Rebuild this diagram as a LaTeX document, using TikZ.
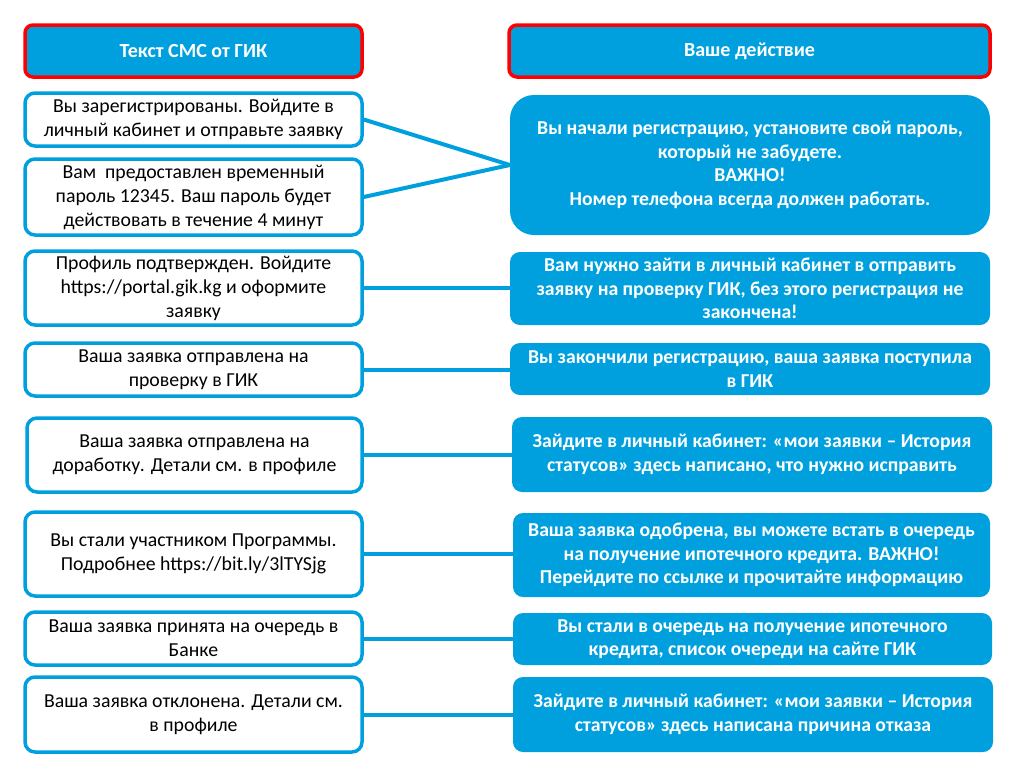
\documentclass[tikz,border=0pt]{standalone}
\usepackage{fontspec}
\setmainfont{Carlito}
\definecolor{gikblue}{RGB}{0,160,223}
\definecolor{gikred}{RGB}{255,0,0}
\tikzset{
  hdr/.style={draw=gikred, line width=3.5pt, fill=gikblue, rounded corners=8pt, text=white,
    font=\fontsize{20}{24}\selectfont\bfseries, align=center, inner sep=0pt},
  smsbox/.style={draw=gikblue, line width=3.5pt, fill=white, rounded corners=10pt, text=black,
    font=\fontsize{19.8}{24}\selectfont, align=center, inner sep=0pt},
  actbox/.style={fill=gikblue, rounded corners=10pt, text=white,
    font=\fontsize{19.7}{23.5}\selectfont\bfseries, align=center, inner sep=0pt},
  conn/.style={draw=gikblue, line width=4pt},
}
\begin{document}
\begin{tikzpicture}[x=1pt,y=-1pt]
\useasboundingbox (0,0) rectangle (1029,769);
% headers
\node[hdr, minimum width=337pt, minimum height=52pt] (h1) at (193.5,51) {Текст СМС от ГИК};
\node[hdr, minimum width=481pt, minimum height=52pt] (h2) at (749.5,51) {Ваше действие};
% SMS boxes
\node[smsbox, minimum width=337pt, minimum height=53pt] (l1) at (193.5,119.5) {Вы зарегистрированы. Войдите в\\личный кабинет и отправьте заявку};
\node[smsbox, minimum width=337pt, minimum height=76pt] (l2) at (193.5,197) {Вам\ \ предоставлен временный\\пароль 12345. Ваш пароль будет\\действовать в течение 4 минут};
\node[smsbox, minimum width=337pt, minimum height=74pt] (l3) at (193.5,288) {Профиль подтвержден. Войдите\\https://portal.gik.kg и оформите\\заявку};
\node[smsbox, minimum width=337pt, minimum height=53pt] (l4) at (193.5,369.5) {Ваша заявка отправлена на\\проверку в ГИК};
\node[smsbox, minimum width=335pt, minimum height=74pt] (l5) at (194.5,455) {Ваша заявка отправлена на\\доработку. Детали см. в профиле};
\node[smsbox, minimum width=337pt, minimum height=84pt] (l6) at (193.5,554) {Вы стали участником Программы.\\Подробнее https://bit.ly/3lTYSjg};
\node[smsbox, minimum width=337pt, minimum height=53pt] (l7) at (193.5,638.5) {Ваша заявка принята на очередь в\\Банке};
\node[smsbox, minimum width=337pt, minimum height=75pt] (l8) at (193.5,714.5) {Ваша заявка отклонена. Детали см.\\в профиле};
% action boxes
\node[actbox, rounded corners=24pt, minimum width=480pt, minimum height=140pt] (r1) at (750,165) {Вы начали регистрацию, установите свой пароль,\\который не забудете.\\ВАЖНО!\\Номер телефона всегда должен работать.};
\node[actbox, minimum width=480pt, minimum height=73pt] (r2) at (750,288.5) {Вам нужно зайти в личный кабинет в отправить\\заявку на проверку ГИК, без этого регистрация не\\закончена!};
\node[actbox, minimum width=480pt, minimum height=52pt] (r3) at (750,369) {Вы закончили регистрацию, ваша заявка поступила\\в ГИК};
\node[actbox, minimum width=480pt, minimum height=75pt] (r4) at (752,454.5) {Зайдите в личный кабинет: «мои заявки – История\\статусов» здесь написано, что нужно исправить};
\node[actbox, minimum width=477pt, minimum height=84pt] (r5) at (751.5,555) {Ваша заявка одобрена, вы можете встать в очередь\\на получение ипотечного кредита. ВАЖНО!\\Перейдите по ссылке и прочитайте информацию};
\node[actbox, minimum width=479pt, minimum height=52pt] (r6) at (752.5,639) {Вы стали в очередь на получение ипотечного\\кредита, список очереди на сайте ГИК};
\node[actbox, minimum width=480pt, minimum height=75pt] (r7) at (753,714.5) {Зайдите в личный кабинет: «мои заявки – История\\статусов» здесь написана причина отказа};
% connectors
\draw[conn] (l1.east) -- (r1.west);
\draw[conn] (l2.east) -- (r1.west);
\draw[conn] (l3.east) -- (l3.east -| r2.west);
\draw[conn] (l4.east) -- (l4.east -| r3.west);
\draw[conn] (l5.east) -- (l5.east -| r4.west);
\draw[conn] (l6.east) -- (l6.east -| r5.west);
\draw[conn] (l7.east) -- (l7.east -| r6.west);
\draw[conn] (l8.east) -- (l8.east -| r7.west);
\end{tikzpicture}
\end{document}
